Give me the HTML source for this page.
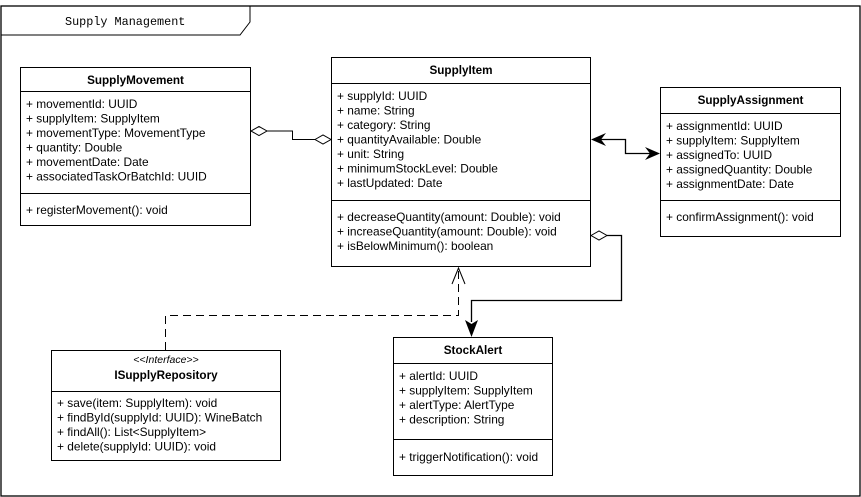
<!DOCTYPE html>
<html><head><meta charset="utf-8"><style>
html,body{margin:0;padding:0;background:#fff;}
svg{display:block;}
text{font-family:"Liberation Sans",Arial,sans-serif;font-size:11.9px;fill:#000;}
.b{font-weight:bold;font-size:11.7px;}
.m{font-family:"Liberation Mono",monospace;font-size:11.8px;}
</style></head><body>
<svg width="861" height="497" viewBox="0 0 861 497" xmlns="http://www.w3.org/2000/svg">
<rect x="1" y="6" width="859" height="490" fill="#fff" stroke="#000" stroke-width="1.3"/>
<path d="M1 35 H240 L250 22 V6" fill="none" stroke="#000"/>
<text class="m" x="65" y="25">Supply Management</text>

<!-- SupplyMovement -->
<rect x="20.5" y="67.5" width="230" height="158" fill="#fff" stroke="#000"/>
<line x1="20" y1="91.5" x2="251" y2="91.5" stroke="#000"/>
<line x1="20" y1="193.5" x2="251" y2="193.5" stroke="#000"/>
<text class="b" x="135.5" y="84" text-anchor="middle">SupplyMovement</text>
<text x="26" y="108">+ movementId: UUID</text>
<text x="26" y="122.5">+ supplyItem: SupplyItem</text>
<text x="26" y="137">+ movementType: MovementType</text>
<text x="26" y="151.5">+ quantity: Double</text>
<text x="26" y="166">+ movementDate: Date</text>
<text x="26" y="180.5">+ associatedTaskOrBatchId: UUID</text>
<text x="26" y="214">+ registerMovement(): void</text>

<!-- SupplyItem -->
<rect x="331.5" y="57.5" width="259" height="209" fill="#fff" stroke="#000"/>
<line x1="331" y1="83.5" x2="591" y2="83.5" stroke="#000"/>
<line x1="331" y1="200.5" x2="591" y2="200.5" stroke="#000"/>
<text class="b" x="461" y="74" text-anchor="middle">SupplyItem</text>
<text x="337" y="100">+ supplyId: UUID</text>
<text x="337" y="114.5">+ name: String</text>
<text x="337" y="129">+ category: String</text>
<text x="337" y="143.5">+ quantityAvailable: Double</text>
<text x="337" y="158">+ unit: String</text>
<text x="337" y="172.5">+ minimumStockLevel: Double</text>
<text x="337" y="187">+ lastUpdated: Date</text>
<text x="337" y="221">+ decreaseQuantity(amount: Double): void</text>
<text x="337" y="235.5">+ increaseQuantity(amount: Double): void</text>
<text x="337" y="250">+ isBelowMinimum(): boolean</text>

<!-- SupplyAssignment -->
<rect x="660.5" y="87.5" width="180" height="149" fill="#fff" stroke="#000"/>
<line x1="660" y1="113.5" x2="841" y2="113.5" stroke="#000"/>
<line x1="660" y1="200.5" x2="841" y2="200.5" stroke="#000"/>
<text class="b" x="750.5" y="104" text-anchor="middle">SupplyAssignment</text>
<text x="666" y="130">+ assignmentId: UUID</text>
<text x="666" y="144.5">+ supplyItem: SupplyItem</text>
<text x="666" y="159">+ assignedTo: UUID</text>
<text x="666" y="173.5">+ assignedQuantity: Double</text>
<text x="666" y="188">+ assignmentDate: Date</text>
<text x="666" y="221">+ confirmAssignment(): void</text>

<!-- ISupplyRepository -->
<rect x="51.5" y="350.5" width="229" height="110" fill="#fff" stroke="#000"/>
<line x1="51" y1="391.5" x2="281" y2="391.5" stroke="#000"/>
<text x="166" y="363" text-anchor="middle" style="font-style:italic;font-size:10.5px">&lt;&lt;Interface&gt;&gt;</text>
<text class="b" x="166" y="379" text-anchor="middle">ISupplyRepository</text>
<text x="57" y="407">+ save(item: SupplyItem): void</text>
<text x="57" y="421.5">+ findById(supplyId: UUID): WineBatch</text>
<text x="57" y="436">+ findAll(): List&lt;SupplyItem&gt;</text>
<text x="57" y="450.5">+ delete(supplyId: UUID): void</text>

<!-- StockAlert -->
<rect x="393.5" y="337.5" width="159" height="138" fill="#fff" stroke="#000"/>
<line x1="393" y1="363.5" x2="553" y2="363.5" stroke="#000"/>
<line x1="393" y1="439.5" x2="553" y2="439.5" stroke="#000"/>
<text class="b" x="473" y="354" text-anchor="middle">StockAlert</text>
<text x="399" y="380">+ alertId: UUID</text>
<text x="399" y="394.5">+ supplyItem: SupplyItem</text>
<text x="399" y="409">+ alertType: AlertType</text>
<text x="399" y="423.5">+ description: String</text>
<text x="399" y="461">+ triggerNotification(): void</text>

<!-- Movement - Item -->
<path d="M267 131 H292.5 V139.5 H315" fill="none" stroke="#000"/>
<path d="M251 131 L259 126.5 L267 131 L259 135.5 Z" fill="#fff" stroke="#000"/>
<path d="M315 139.5 L323 135 L331 139.5 L323 144 Z" fill="#fff" stroke="#000"/>

<!-- Item <-> Assignment -->
<path d="M600 139.5 H625.5 V153.5 H651" fill="none" stroke="#000" stroke-width="1.3"/>
<path d="M591 139.5 L606 133 L601 139.5 L606 146 Z" fill="#000"/>
<path d="M660 153.5 L645 147 L650 153.5 L645 160 Z" fill="#000"/>

<!-- Realization dashed -->
<path d="M165.5 350 V315.5 H458.5 V270" fill="none" stroke="#000" stroke-dasharray="8,5"/>
<path d="M452 284 L458.5 268 L465 284" fill="none" stroke="#000"/>

<!-- Aggregation Item -> StockAlert -->
<path d="M607 235.5 H621.5 V300.5 H471.5 V322" fill="none" stroke="#000" stroke-width="1.3"/>
<path d="M591 235.5 L599 231 L607 235.5 L599 240 Z" fill="#fff" stroke="#000"/>
<path d="M471.5 337 L465 320 L471.5 324 L478 320 Z" fill="#000"/>
</svg>
</body></html>
